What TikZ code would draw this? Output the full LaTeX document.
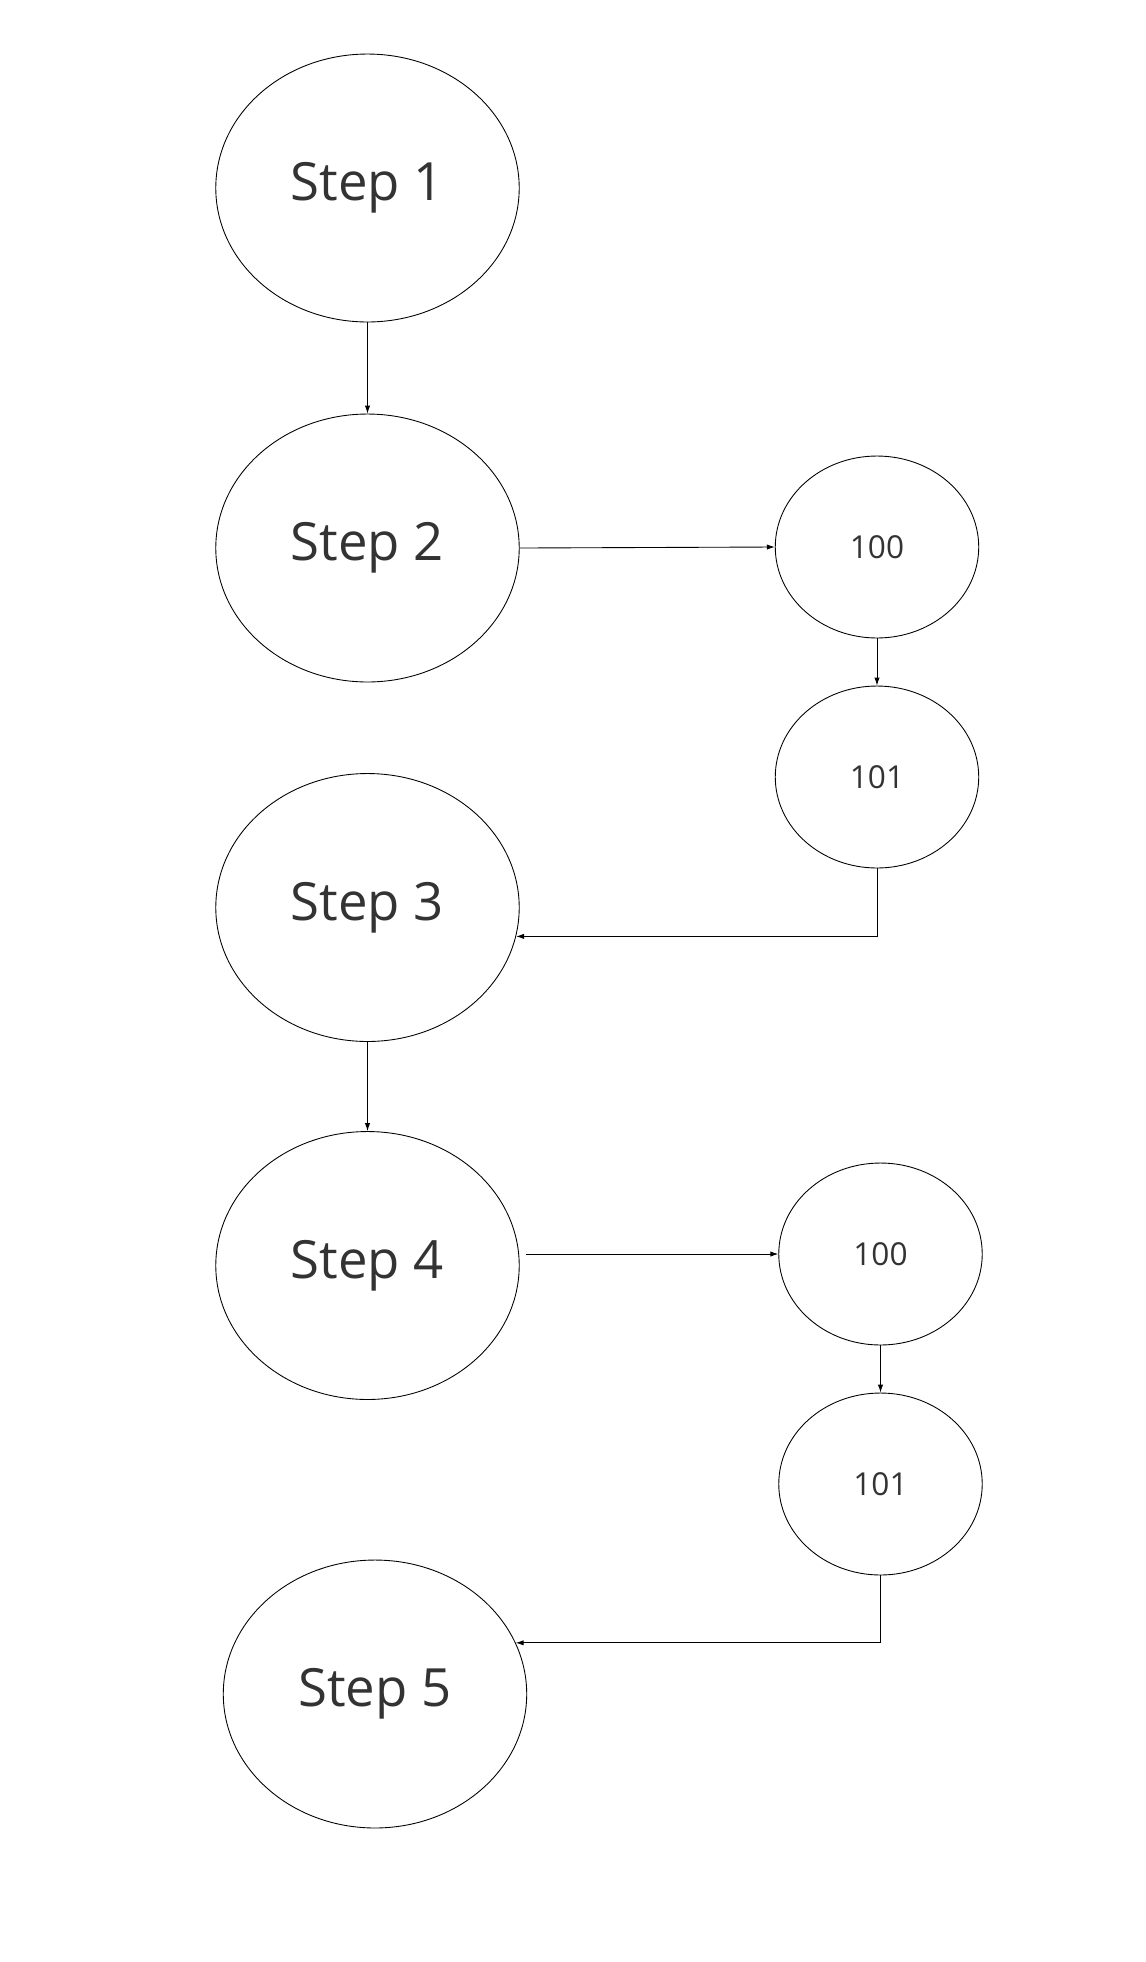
\documentclass[tikz,border=0pt]{standalone}
\usepackage{fontspec}
\setmainfont{Open Sans}
\usepackage{xcolor}
\usepackage{tikz}
\usetikzlibrary{positioning, calc, arrows.meta, shapes.geometric}
\definecolor{textdark}{RGB}{51, 51, 51}
\tikzset{
    stepnode/.style={
        ellipse, draw=black, minimum width=6.07cm, minimum height=5.36cm, inner sep=0pt,
        text=textdark, font=\fontsize{30}{36}\selectfont
    },
    codenode/.style={
        ellipse, draw=black, minimum width=4.07cm, minimum height=3.64cm, inner sep=0pt,
        text=textdark, font=\fontsize{18}{22}\selectfont
    },
    ptr/.style={
        -{Latex[length=4.5pt,width=3pt]}, line width=0.5pt, black
    }
}

\begin{document}
\begin{tikzpicture}[
        % --- CANVAS: 1 unit = 1 pixel ---
        x=0.02cm, y=-0.02cm,
        line width=0.5pt
    ]
        \useasboundingbox (0,0) rectangle (1146,1962);

        % ==========================================
        % STEPS (LEFT COLUMN)
        % ==========================================
        \node[stepnode] (step1) at (367.5,188) {Step 1};
        \node[stepnode] (step2) at (367.5,548) {Step 2};
        \node[stepnode] (step3) at (367.5,907.5) {Step 3};
        \node[stepnode] (step4) at (367.5,1265.5) {Step 4};
        \node[stepnode] (step5) at (375,1694) {Step 5};

        % ==========================================
        % CODES (RIGHT COLUMN)
        % ==========================================
        \node[codenode] (code100a) at (877,547) {100};
        \node[codenode] (code101a) at (877,777) {101};
        \node[codenode] (code100b) at (880.5,1254) {100};
        \node[codenode] (code101b) at (880.5,1484) {101};

        % ==========================================
        % ARROWS
        % ==========================================
        \draw[ptr] (step1.south) -- (step2.north);
        \draw[ptr] (step2.east) -- (code100a.west);
        \draw[ptr] (code100a.south) -- (code101a.north);
        \draw[ptr] (code101a.south) |- (step3.-11);

        \draw[ptr] (step3.south) -- (step4.north);
        \draw[ptr] ([xshift=0.12cm]code100b.west -| step4.east) -- (code100b.west);
        \draw[ptr] (code100b.south) -- (code101b.north);
        \draw[ptr] (code101b.south) |- (step5.20.5);

    \end{tikzpicture}
\end{document}
